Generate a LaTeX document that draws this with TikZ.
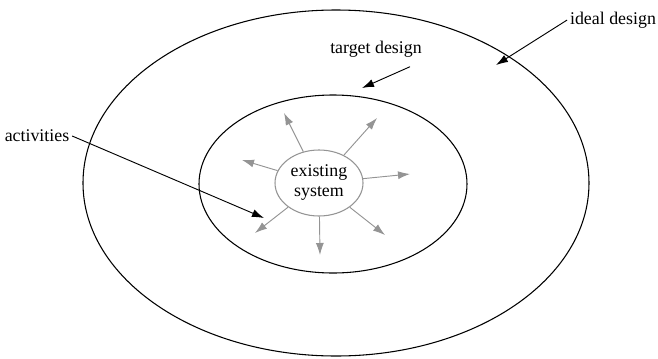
\documentclass[tikz,border=0pt]{standalone}
\usepackage{fontspec}
\setmainfont{Liberation Serif}
\usetikzlibrary{shapes.geometric, arrows.meta, positioning}

\begin{document}
\begin{tikzpicture}[x=0.75pt, y=-0.75pt,
            font=\fontsize{13.4}{15}\selectfont,
            oval/.style={ellipse, draw, line width=0.8pt, inner sep=0pt},
            spread/.style={draw=black!42, line width=0.7pt, -{Latex[length=9pt, width=6pt]}},
            tag/.style={draw, line width=0.7pt, -{Latex[length=9pt, width=6pt]}},
            lbl/.style={inner sep=2pt}]
            \useasboundingbox (0,0) rectangle (658,358);
            % the three designs
            \node[oval, minimum width=379.5pt, minimum height=259.5pt] (ideal) at (336,183) {};
            \node[oval, minimum width=201pt, minimum height=133.5pt] (target) at (333,184) {};
            \node[oval, draw=black!42, minimum width=66pt, minimum height=49.5pt,
                  align=center] (sys) at (319,183) {existing\\system};
            % activities spreading out
            \coordinate (a1) at (284,113);
            \coordinate (a2) at (377,118);
            \coordinate (a3) at (242,160);
            \coordinate (a4) at (410,174);
            \coordinate (a5) at (255,233);
            \coordinate (a6) at (320,255);
            \coordinate (a7) at (385,235);
            \foreach \i in {1,...,7}
                \draw[spread] (sys) -- (a\i);
            % labels
            \node[lbl] (lideal) at (613,20) {ideal design};
            \node[lbl] (ltarget) at (376,49) {target design};
            \node[lbl] (lact) at (37,136) {activities};
            \coordinate (pideal) at (496,65);
            \coordinate (ptarget) at (362,88);
            \coordinate (pact) at (264,218);
            \draw[tag] (lideal.west) -- (pideal);
            \draw[tag] ([xshift=-11pt, yshift=-5pt]ltarget.south east) -- (ptarget);
            \draw[tag] (lact.east) -- (pact);
        \end{tikzpicture}
\end{document}
